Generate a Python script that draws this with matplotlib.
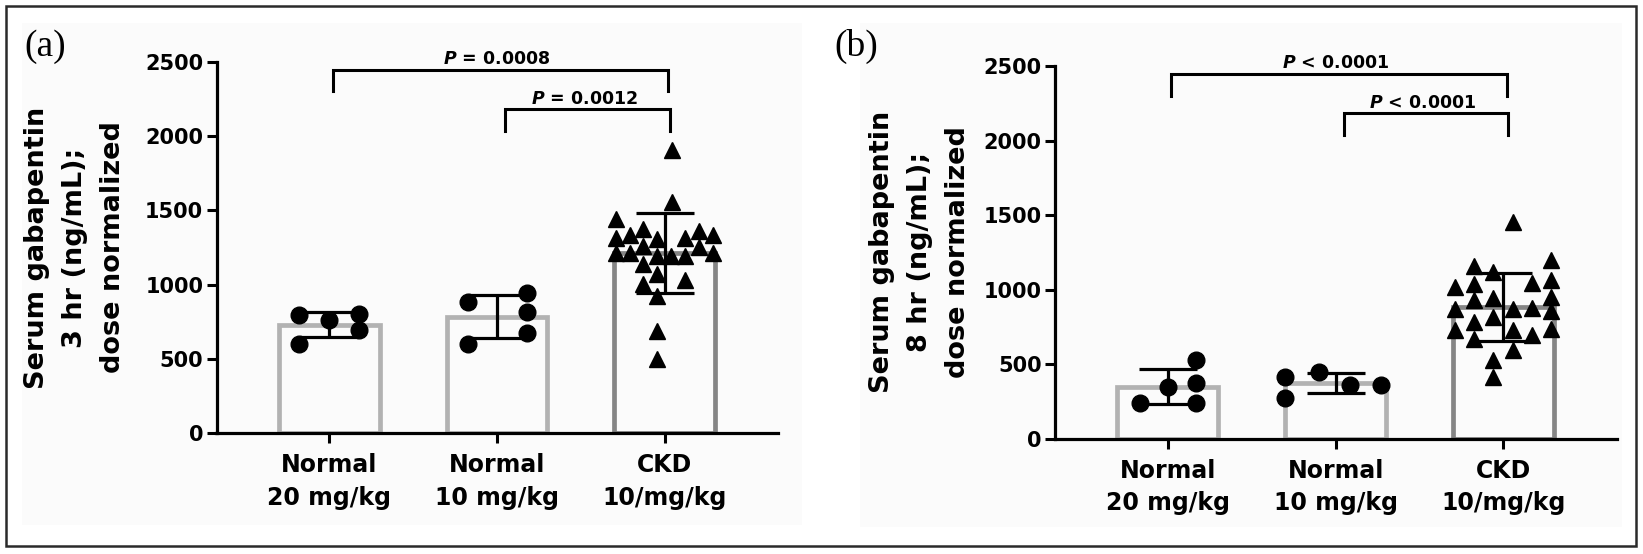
import numpy as np
import matplotlib.pyplot as plt
from matplotlib.patches import Rectangle

plt.rcParams["mathtext.fontset"] = "custom"
plt.rcParams["mathtext.it"] = "DejaVu Sans:bold:italic"

groups = ["Normal\n20 mg/kg", "Normal\n10 mg/kg", "CKD\n10/mg/kg"]

# (a) 3 hr serum gabapentin, dose normalized (ng/mL)
hr3_normal20 = [795, 760, 800, 692, 600]
hr3_normal20_dx = [-0.18, 0.0, 0.18, 0.18, -0.18]
hr3_normal10 = [886, 945, 814, 676, 600]
hr3_normal10_dx = [-0.175, 0.18, 0.18, 0.18, -0.175]
hr3_ckd = [1907, 1555, 1443, 1376, 1331, 1315, 1308, 1364, 1331, 1315,
           1263, 1252, 1212, 1212, 1196, 1196, 1196, 1212, 1140, 1073,
           1006, 1033, 927, 688, 502]
hr3_ckd_dx = [0.044, 0.044, -0.288, -0.129, -0.209, -0.288, -0.046, 0.203, 0.288, 0.119,
              -0.129, 0.203, -0.288, -0.209, -0.046, 0.04, 0.119, 0.288, -0.129, -0.046,
              -0.129, 0.119, -0.046, -0.046, -0.046]
hr3_pvals = ["= 0.0008", "= 0.0012"]

# (b) 8 hr serum gabapentin, dose normalized (ng/mL)
hr8_normal20 = [527, 372, 349, 242, 242]
hr8_normal20_dx = [0.17, 0.17, 0.0, 0.17, -0.165]
hr8_normal10 = [415, 450, 362, 362, 272]
hr8_normal10_dx = [-0.30, -0.10, 0.085, 0.27, -0.30]
hr8_ckd = [1451, 1161, 1195, 1117, 1016, 1039, 1045, 1061, 945, 927,
           949, 871, 871, 878, 855, 815, 782, 726, 726, 738,
           693, 671, 597, 530, 410]
hr8_ckd_dx = [0.06, -0.173, 0.286, -0.06, -0.286, -0.173, 0.17, 0.286, -0.06, -0.173,
              0.286, -0.286, 0.06, 0.17, 0.286, -0.06, -0.173, -0.286, 0.06, 0.286,
              0.17, -0.173, 0.06, -0.06, -0.06]
hr8_pvals = ["< 0.0001", "< 0.0001"]

bar_edge = ["#b2b2b2", "#b2b2b2", "#858585"]
markers = ["o", "o", "^"]

fig = plt.figure(figsize=(16.43, 5.54), dpi=100)
fig.patch.set_facecolor("white")

# faint panel backgrounds and the outer frame
fig.patches.append(Rectangle((22 / 1643, 1 - 525 / 554), 780 / 1643, 502 / 554,
                             transform=fig.transFigure, facecolor="#fbfbfb",
                             edgecolor="none", zorder=-2))
fig.patches.append(Rectangle((860 / 1643, 1 - 527 / 554), 762 / 1643, 504 / 554,
                             transform=fig.transFigure, facecolor="#fbfbfb",
                             edgecolor="none", zorder=-2))
fig.patches.append(Rectangle((6 / 1643, 1 - 546 / 554), 1630 / 1643, 540 / 554,
                             transform=fig.transFigure, facecolor="none",
                             edgecolor="#2a2a2a", linewidth=1.8, zorder=-1))


def panel(rect, series, offsets, pvals, ylabel, label_x, tag, tag_xy):
    ax = fig.add_axes(rect)
    ax.patch.set_alpha(0)
    x = np.arange(len(groups))
    means = [np.mean(s) for s in series]
    sds = [np.std(s, ddof=1) for s in series]

    ax.bar(x, means, width=0.6, facecolor="none", edgecolor=bar_edge,
           linewidth=3.4, zorder=1)
    for i in x:
        ax.errorbar(i, means[i], yerr=sds[i], color="black", capsize=21,
                    capthick=2.3, elinewidth=2.3, zorder=2)
        ax.plot(i + np.array(offsets[i]), series[i], linestyle="none",
                marker=markers[i], markersize=12 if i < 2 else 11.5,
                color="black", zorder=3)

    # significance brackets
    brackets = [(0.02, 2.02, 2445, 2300, 2485), (1.05, 2.03, 2185, 2035, 2218)]
    for (x0, x1, top, leg, ty), p in zip(brackets, pvals):
        ax.plot([x0, x0, x1, x1], [leg, top, top, leg], color="black",
                linewidth=2.2, clip_on=False, solid_joinstyle="miter")
        ax.text((x0 + x1) / 2 - 0.02, ty, "$P$ " + p, ha="center",
                va="baseline", fontsize=12.5, fontweight="bold", clip_on=False)

    ax.set_xlim(-0.672, 2.675)
    ax.set_ylim(0, 2500)
    ax.set_yticks(range(0, 2501, 500))
    ax.set_xticks(x)
    ax.set_xticklabels(groups, fontsize=17, fontweight="bold", linespacing=1.45)
    for t in ax.get_yticklabels():
        t.set_fontsize(15)
        t.set_fontweight("bold")
    for s in ["top", "right"]:
        ax.spines[s].set_visible(False)
    for s in ["left", "bottom"]:
        ax.spines[s].set_linewidth(2.3)
    ax.tick_params(axis="both", width=2.2, length=7.5, direction="out")
    ax.tick_params(axis="y", pad=2)
    ax.tick_params(axis="x", pad=7)

    ax.set_ylabel(ylabel, fontsize=19.5, fontweight="bold", linespacing=1.6,
                  va="center", ha="center")
    ax.yaxis.set_label_coords(label_x, 0.5)

    fig.text(tag_xy[0] / 1643, 1 - tag_xy[1] / 554, tag, family="Liberation Serif",
             fontsize=27, ha="center", va="center")
    return ax


panel([216.5 / 1643, 1 - 433.3 / 554, 561.5 / 1643, 371.6 / 554],
      [hr3_normal20, hr3_normal10, hr3_ckd],
      [hr3_normal20_dx, hr3_normal10_dx, hr3_ckd_dx], hr3_pvals,
      "Serum gabapentin\n3 hr (ng/mL);\ndose normalized", -0.252, "(a)", (45, 47))

panel([1055 / 1643, 1 - 438.6 / 554, 561.7 / 1643, 372.6 / 554],
      [hr8_normal20, hr8_normal10, hr8_ckd],
      [hr8_normal20_dx, hr8_normal10_dx, hr8_ckd_dx], hr8_pvals,
      "Serum gabapentin\n8 hr (ng/mL);\ndose normalized", -0.24, "(b)", (856, 46))

fig.savefig("out.png", dpi=100)
